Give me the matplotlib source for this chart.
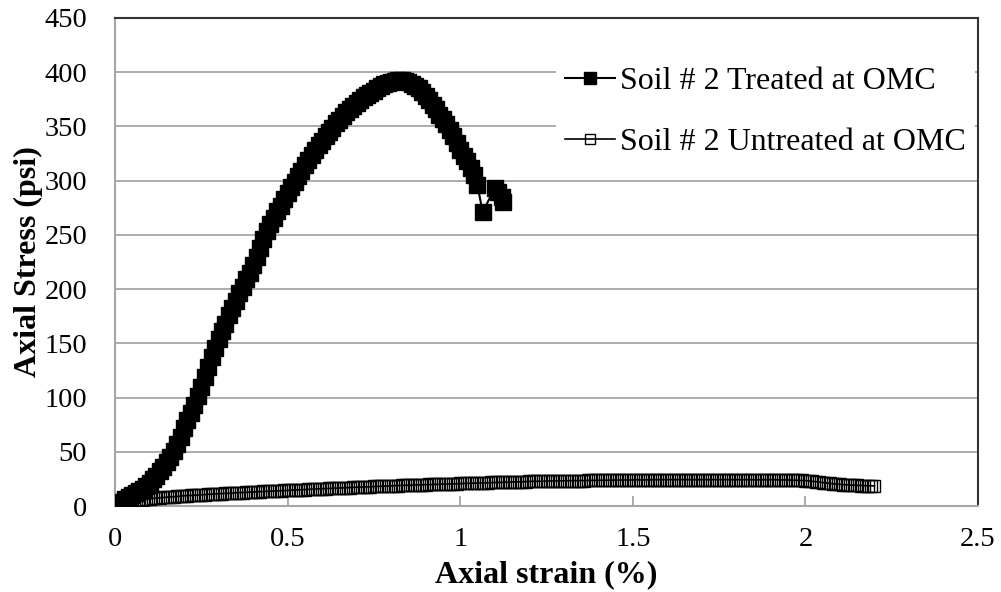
import matplotlib
matplotlib.use("Agg")
import matplotlib.pyplot as plt

# ---- data ----
treated_strain = [
    0.00, 0.01, 0.02, 0.03, 0.04, 0.05, 0.06, 0.07, 0.08, 0.09,
    0.10, 0.11, 0.12, 0.13, 0.14, 0.15, 0.16, 0.17, 0.18, 0.19,
    0.20, 0.21, 0.22, 0.23, 0.24, 0.25, 0.26, 0.27, 0.28, 0.29,
    0.30, 0.31, 0.32, 0.33, 0.34, 0.35, 0.36, 0.37, 0.38, 0.39,
    0.40, 0.41, 0.42, 0.43, 0.44, 0.45, 0.46, 0.47, 0.48, 0.49,
    0.50, 0.51, 0.52, 0.53, 0.54, 0.55, 0.56, 0.57, 0.58, 0.59,
    0.60, 0.61, 0.62, 0.63, 0.64, 0.65, 0.66, 0.67, 0.68, 0.69,
    0.70, 0.71, 0.72, 0.73, 0.74, 0.75, 0.76, 0.77, 0.78, 0.79,
    0.80, 0.81, 0.82, 0.83, 0.84, 0.85, 0.86, 0.87, 0.88, 0.89,
    0.90, 0.91, 0.92, 0.93, 0.94, 0.95, 0.96, 0.97, 0.98, 0.99,
    1.00, 1.01, 1.02, 1.03, 1.04, 1.05, 1.065, 1.10, 1.11, 1.12, 1.125,
]
treated_stress = [
    0, 2, 4, 6, 8, 10, 12, 14, 16, 18.5,
    21, 24.5, 28, 32, 36, 40.5, 45, 51, 57, 64,
    72, 79, 86, 93, 101, 110, 119, 128, 137, 146,
    154, 161, 168, 176, 183, 189, 196, 202, 209, 215,
    222, 230, 238, 246, 254, 260, 266, 272, 277, 283,
    289, 294, 299, 304, 309, 314, 319, 324, 328, 333,
    337, 341, 345, 349, 353, 356, 360, 363, 366, 369,
    372, 374, 377, 379, 381, 383, 385, 387, 389, 390,
    391, 392, 393, 393, 392, 391, 389, 387, 385, 382,
    378, 374, 370, 366, 361, 357, 352, 347, 341, 335,
    328, 323, 318, 312, 305, 296, 271, 293, 290, 285, 280,
]

untreated_strain = [
    0.00, 0.01, 0.02, 0.03, 0.04, 0.05, 0.06, 0.07, 0.08, 0.09,
    0.10, 0.11, 0.12, 0.13, 0.14, 0.15, 0.16, 0.17, 0.18, 0.19,
    0.20, 0.21, 0.22, 0.23, 0.24, 0.25, 0.26, 0.27, 0.28, 0.29,
    0.30, 0.31, 0.32, 0.33, 0.34, 0.35, 0.36, 0.37, 0.38, 0.39,
    0.40, 0.41, 0.42, 0.43, 0.44, 0.45, 0.46, 0.47, 0.48, 0.49,
    0.50, 0.51, 0.52, 0.53, 0.54, 0.55, 0.56, 0.57, 0.58, 0.59,
    0.60, 0.61, 0.62, 0.63, 0.64, 0.65, 0.66, 0.67, 0.68, 0.69,
    0.70, 0.71, 0.72, 0.73, 0.74, 0.75, 0.76, 0.77, 0.78, 0.79,
    0.80, 0.81, 0.82, 0.83, 0.84, 0.85, 0.86, 0.87, 0.88, 0.89,
    0.90, 0.91, 0.92, 0.93, 0.94, 0.95, 0.96, 0.97, 0.98, 0.99,
    1.00, 1.01, 1.02, 1.03, 1.04, 1.05, 1.06, 1.07, 1.08, 1.09,
    1.10, 1.11, 1.12, 1.13, 1.14, 1.15, 1.16, 1.17, 1.18, 1.19,
    1.20, 1.21, 1.22, 1.23, 1.24, 1.25, 1.26, 1.27, 1.28, 1.29,
    1.30, 1.31, 1.32, 1.33, 1.34, 1.35, 1.36, 1.37, 1.38, 1.39,
    1.40, 1.41, 1.42, 1.43, 1.44, 1.45, 1.46, 1.47, 1.48, 1.49,
    1.50, 1.51, 1.52, 1.53, 1.54, 1.55, 1.56, 1.57, 1.58, 1.59,
    1.60, 1.61, 1.62, 1.63, 1.64, 1.65, 1.66, 1.67, 1.68, 1.69,
    1.70, 1.71, 1.72, 1.73, 1.74, 1.75, 1.76, 1.77, 1.78, 1.79,
    1.80, 1.81, 1.82, 1.83, 1.84, 1.85, 1.86, 1.87, 1.88, 1.89,
    1.90, 1.91, 1.92, 1.93, 1.94, 1.95, 1.96, 1.97, 1.98, 1.99,
    2.00, 2.01, 2.02, 2.03, 2.04, 2.05, 2.06, 2.07, 2.08, 2.09,
    2.10, 2.11, 2.12, 2.13, 2.14, 2.15, 2.16, 2.17, 2.18, 2.19, 2.20,
]
untreated_stress = [
    0, 1.5, 2.5, 3.3, 4.0, 4.6, 5.1, 5.5, 5.9, 6.3,
    6.7, 7.0, 7.3, 7.6, 7.9, 8.1, 8.4, 8.6, 8.9, 9.1,
    9.4, 9.6, 9.8, 10.0, 10.2, 10.4, 10.6, 10.8, 10.9, 11.1,
    11.3, 11.5, 11.6, 11.8, 12.0, 12.1, 12.3, 12.4, 12.6, 12.8,
    12.9, 13.1, 13.2, 13.4, 13.5, 13.7, 13.8, 14.0, 14.1, 14.3,
    14.4, 14.6, 14.7, 14.9, 15.0, 15.2, 15.3, 15.5, 15.6, 15.8,
    15.9, 16.0, 16.2, 16.3, 16.5, 16.6, 16.7, 16.9, 17.0, 17.2,
    17.3, 17.4, 17.6, 17.7, 17.8, 18.0, 18.1, 18.2, 18.4, 18.5,
    18.6, 18.7, 18.9, 19.0, 19.1, 19.2, 19.4, 19.5, 19.6, 19.7,
    19.8, 19.9, 20.0, 20.1, 20.2, 20.3, 20.4, 20.5, 20.6, 20.7,
    20.8, 20.9, 21.0, 21.1, 21.2, 21.3, 21.4, 21.5, 21.6, 21.7,
    21.8, 21.9, 22.0, 22.0, 22.1, 22.2, 22.3, 22.4, 22.4, 22.5,
    22.6, 22.7, 22.7, 22.8, 22.9, 22.9, 23.0, 23.1, 23.1, 23.2,
    23.2, 23.3, 23.3, 23.4, 23.4, 23.5, 23.5, 23.6, 23.6, 23.7,
    23.7, 23.8, 23.8, 23.8, 23.9, 23.9, 23.9, 24.0, 24.0, 24.0,
    24.1, 24.1, 24.1, 24.1, 24.2, 24.2, 24.2, 24.2, 24.2, 24.3,
    24.3, 24.3, 24.3, 24.3, 24.3, 24.3, 24.3, 24.3, 24.3, 24.3,
    24.3, 24.3, 24.3, 24.3, 24.3, 24.3, 24.3, 24.3, 24.3, 24.3,
    24.3, 24.3, 24.3, 24.2, 24.2, 24.2, 24.2, 24.2, 24.2, 24.2,
    24.2, 24.2, 24.1, 24.1, 24.0, 24.0, 23.9, 23.8, 23.7, 23.6,
    23.4, 23.1, 22.8, 22.4, 22.0, 21.6, 21.2, 20.8, 20.5, 20.2,
    19.9, 19.7, 19.5, 19.3, 19.1, 19.0, 18.9, 18.8, 18.7, 18.6, 18.5,
]

x_ticks = [0, 0.5, 1, 1.5, 2, 2.5]
x_tick_labels = ["0", "0.5", "1", "1.5", "2", "2.5"]
y_ticks = [0, 50, 100, 150, 200, 250, 300, 350, 400, 450]
y_tick_labels = ["0", "50", "100", "150", "200", "250", "300", "350", "400", "450"]

label_treated = "Soil # 2 Treated at OMC"
label_untreated = "Soil # 2 Untreated at OMC"

# ---- figure ----
plt.rcParams["font.family"] = ["Liberation Serif", "DejaVu Serif"]

fig = plt.figure(figsize=(10.01, 5.92), dpi=100)
ax = fig.add_axes([115 / 1001, 1 - 506 / 592, (978 - 115) / 1001, (506 - 18) / 592])

grid_c = "#a6a6a6"
for yv in y_ticks[1:]:
    ax.axhline(yv, color=grid_c, lw=1.3, zorder=1)

ax.plot(untreated_strain, untreated_stress, color="black", lw=1.2,
        marker="s", ms=8.4, mfc="none", mec="black", mew=1.0, zorder=3,
        label=label_untreated)

ax.plot(treated_strain, treated_stress, color="black", lw=1.5,
        marker="s", ms=11.0, mfc="black", mec="black", mew=1.0, zorder=4,
        label=label_treated)

ax.set_xlim(0, 2.5)
ax.set_ylim(0, 450)
ax.set_xticks(x_ticks)
ax.set_xticklabels(x_tick_labels)
ax.set_yticks(y_ticks)
ax.set_yticklabels(y_tick_labels)

ax.tick_params(axis="x", direction="in", length=7, width=1.3, color=grid_c,
               labelsize=20.5, pad=15)
ax.tick_params(axis="y", length=0, labelsize=20.5, pad=20)

for side in ["left", "bottom"]:
    ax.spines[side].set_color(grid_c)
    ax.spines[side].set_linewidth(1.5)
for side in ["top", "right"]:
    ax.spines[side].set_color("#333333")
    ax.spines[side].set_linewidth(1.5)

ax.set_xlabel("Axial strain (%)", fontsize=23, fontweight="bold", labelpad=6)
ax.set_ylabel("Axial Stress (psi)", fontsize=23, fontweight="bold", labelpad=1)

handles, labels = ax.get_legend_handles_labels()
order = [1, 0]
leg = ax.legend([handles[i] for i in order], [labels[i] for i in order],
                loc="upper right", bbox_to_anchor=(0.9965, 0.92),
                frameon=True, fontsize=23, handlelength=1.55, handletextpad=0.15,
                labelspacing=1.0, borderpad=0.3, borderaxespad=0.0,
                markerscale=0.85)
leg.get_frame().set_edgecolor("none")
leg.get_frame().set_facecolor("white")
leg.get_frame().set_alpha(1.0)
leg.get_frame().set_boxstyle("square", pad=0)
leg.set_zorder(5)

fig.savefig("out.png", dpi=100)
